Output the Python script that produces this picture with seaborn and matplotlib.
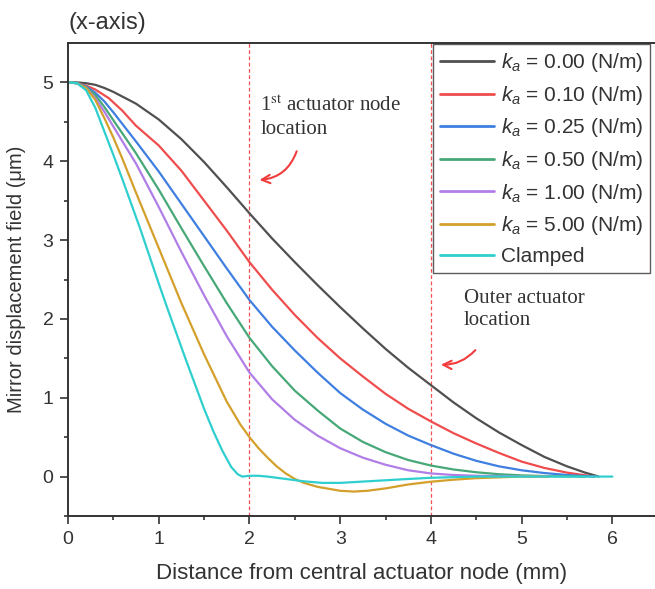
import numpy as np
import pandas as pd
import matplotlib
matplotlib.use("Agg")
import matplotlib.pyplot as plt
import seaborn as sns

# ---- data ----
labels = ["$k_a$ = 0.00 (N/m)", "$k_a$ = 0.10 (N/m)", "$k_a$ = 0.25 (N/m)",
          "$k_a$ = 0.50 (N/m)", "$k_a$ = 1.00 (N/m)", "$k_a$ = 5.00 (N/m)", "Clamped"]
colors = ["#505050", "#ef4d4d", "#3f7fe0", "#47a877", "#b07ee6", "#d4a02c", "#2fcfcf"]

x_k000 = [0, 0.1, 0.2, 0.3, 0.4, 0.5, 0.75, 1.0, 1.25, 1.5, 1.75, 2.0, 2.25, 2.5, 2.75, 3.0, 3.25,
          3.5, 3.75, 4.0, 4.25, 4.5, 4.75, 5.0, 5.25, 5.5, 5.7, 5.85]
y_k000 = [5, 5.0, 4.99, 4.97, 4.93, 4.88, 4.73, 4.53, 4.28, 3.99, 3.67, 3.34, 3.02, 2.72, 2.43, 2.15, 1.88,
          1.62, 1.38, 1.16, 0.94, 0.74, 0.56, 0.40, 0.25, 0.13, 0.05, 0.0]

x_k010 = [0, 0.1, 0.2, 0.3, 0.45, 0.6, 0.75, 1.0, 1.25, 1.5, 1.75, 2.0, 2.25, 2.5, 2.75, 3.0, 3.25,
          3.5, 3.75, 4.0, 4.25, 4.5, 4.75, 5.0, 5.25, 5.5, 5.8]
y_k010 = [5, 4.99, 4.96, 4.91, 4.8, 4.64, 4.45, 4.2, 3.88, 3.5, 3.12, 2.72, 2.37, 2.05, 1.76, 1.5, 1.27,
          1.05, 0.86, 0.7, 0.55, 0.42, 0.3, 0.19, 0.11, 0.05, 0.0]

x_k025 = [0, 0.1, 0.2, 0.3, 0.4, 0.5, 0.75, 1.0, 1.25, 1.5, 1.75, 2.0, 2.25, 2.5, 2.75, 3.0, 3.25,
          3.5, 3.75, 4.0, 4.25, 4.5, 4.75, 5.0, 5.25, 5.5, 5.8]
y_k025 = [5, 4.99, 4.95, 4.87, 4.76, 4.62, 4.25, 3.87, 3.46, 3.05, 2.64, 2.24, 1.9, 1.6, 1.32, 1.06, 0.85,
          0.67, 0.52, 0.4, 0.29, 0.2, 0.13, 0.08, 0.045, 0.02, 0.0]

x_k050 = [0, 0.1, 0.2, 0.3, 0.4, 0.5, 0.75, 1.0, 1.25, 1.5, 1.75, 2.0, 2.25, 2.5, 2.75, 3.0, 3.25,
          3.5, 3.75, 4.0, 4.25, 4.5, 4.75, 5.0, 5.3, 5.7]
y_k050 = [5, 4.99, 4.94, 4.84, 4.69, 4.52, 4.1, 3.64, 3.15, 2.67, 2.2, 1.76, 1.4, 1.09, 0.84, 0.61, 0.44,
          0.31, 0.21, 0.14, 0.09, 0.055, 0.03, 0.015, 0.005, 0.0]

x_k100 = [0, 0.1, 0.2, 0.3, 0.4, 0.5, 0.75, 1.0, 1.25, 1.5, 1.75, 2.0, 2.25, 2.5, 2.75, 3.0, 3.25,
          3.5, 3.75, 4.0, 4.25, 4.5, 5.3]
y_k100 = [5, 4.99, 4.93, 4.8, 4.63, 4.44, 3.97, 3.42, 2.85, 2.3, 1.78, 1.32, 0.98, 0.72, 0.52, 0.36, 0.24,
          0.15, 0.08, 0.04, 0.02, 0.01, 0.0]

x_k500 = [0, 0.1, 0.2, 0.3, 0.4, 0.5, 0.6, 0.75, 1.0, 1.25, 1.5, 1.75, 1.9, 2.0, 2.1, 2.2, 2.3, 2.4,
          2.5, 2.6, 2.75, 3.0, 3.15, 3.3, 3.5, 3.75, 4.0, 4.25, 4.5, 4.75, 5.0, 5.3]
y_k500 = [5, 4.99, 4.93, 4.78, 4.55, 4.3, 4.03, 3.6, 2.9, 2.2, 1.55, 0.95, 0.66, 0.5, 0.36, 0.24, 0.13, 0.04,
          -0.03, -0.08, -0.13, -0.18, -0.19, -0.18, -0.15, -0.1, -0.065, -0.04, -0.02, -0.01, 0.0, 0.0]

x_clamp = [0, 0.1, 0.2, 0.3, 0.4, 0.5, 0.6, 0.7, 0.8, 0.9, 1.0, 1.1, 1.2, 1.3, 1.4, 1.5, 1.6, 1.7,
           1.8, 1.87, 1.92, 2.0, 2.1, 2.2, 2.4, 2.6, 2.8, 3.0, 3.3, 3.6, 4.0, 4.5, 6.0]
y_clamp = [5, 4.99, 4.9, 4.68, 4.38, 4.08, 3.77, 3.45, 3.13, 2.79, 2.45, 2.12, 1.8, 1.48, 1.17, 0.86, 0.58, 0.33,
           0.12, 0.03, 0.0, 0.01, 0.01, 0.0, -0.03, -0.06, -0.08, -0.08, -0.06, -0.04, -0.015, 0.0, 0.0]

xs = [x_k000, x_k010, x_k025, x_k050, x_k100, x_k500, x_clamp]
ys = [y_k000, y_k010, y_k025, y_k050, y_k100, y_k500, y_clamp]

vlines_x = [2, 4]

frames = [pd.DataFrame({"x": xv, "y": yv, "series": lab}) for xv, yv, lab in zip(xs, ys, labels)]
df = pd.concat(frames, ignore_index=True)

# ---- style ----
sns.set_style("ticks")
plt.rcParams["font.family"] = ["Liberation Sans", "DejaVu Sans"]
plt.rcParams["mathtext.fontset"] = "custom"
plt.rcParams["mathtext.it"] = "Liberation Sans:italic"
plt.rcParams["mathtext.rm"] = "Liberation Sans"
plt.rcParams["mathtext.default"] = "it"

fig = plt.figure(figsize=(6.55, 5.89), dpi=100)
ax = fig.add_axes([68 / 655, (589 - 516) / 589, (655 - 68) / 655, (516 - 43) / 589])

sns.lineplot(data=df, x="x", y="y", hue="series", hue_order=labels,
             palette=dict(zip(labels, colors)), estimator=None, sort=False,
             linewidth=1.6, ax=ax)

for xv in vlines_x:
    ax.axvline(xv, color="#f05050", linestyle=(0, (3, 2)), linewidth=0.9, zorder=0)

ax.set_xlim(0, 6.47)
ax.set_ylim(-0.5, 5.5)
ax.set_xticks([0, 1, 2, 3, 4, 5, 6])
ax.set_xticks(np.arange(0.5, 6.5, 1.0), minor=True)
ax.set_yticks([0, 1, 2, 3, 4, 5])
ax.set_yticks(np.arange(-0.5, 5.5, 1.0), minor=True)
ax.tick_params(which="major", direction="out", length=5.5, width=1.2, labelsize=14,
               colors="#333333", labelcolor="#333333", pad=5)
ax.tick_params(which="minor", direction="out", length=3, width=1.2, colors="#333333")
for side in ["left", "bottom", "top"]:
    ax.spines[side].set_linewidth(1.4)
    ax.spines[side].set_color("#333333")
ax.spines["right"].set_visible(False)

ax.set_xlabel("Distance from central actuator node (mm)", fontsize=16, color="#333333", labelpad=11)
ax.set_ylabel("Mirror displacement field (\u03bcm)", fontsize=14.5, color="#333333", labelpad=12)
fig.text(68 / 655, 1 - 23 / 589, "(x-axis)", fontsize=17, color="#333333", va="center", ha="left")

leg = ax.legend(loc="upper right", bbox_to_anchor=(650 / 655, (589 - 44) / 589),
                bbox_transform=fig.transFigure, frameon=True, fancybox=False,
                fontsize=15, handlelength=2.6, handletextpad=0.3, borderpad=0.35,
                labelspacing=0.46, borderaxespad=0)
leg.get_frame().set_edgecolor("#333333")
leg.get_frame().set_linewidth(1.0)
for t in leg.get_texts():
    t.set_color("#333333")
for h in leg.get_lines():
    h.set_linewidth(2.0)

serif = ["Liberation Serif", "DejaVu Serif"]
ax.text(2.12, 4.83, "1$^{\\rm st}$ actuator node\nlocation", family=serif, fontsize=15,
        color="#333333", va="top", ha="left", math_fontfamily="stix", linespacing=1.25)
ax.text(4.36, 2.38, "Outer actuator\nlocation", family=serif, fontsize=15,
        color="#333333", va="top", ha="left", linespacing=1.25)

ax.annotate("", xy=(2.08, 3.76), xytext=(2.53, 4.16),
            arrowprops=dict(arrowstyle="->", color="#f03c3c", lw=1.5,
                            connectionstyle="arc3,rad=-0.35", mutation_scale=15))
ax.annotate("", xy=(4.08, 1.42), xytext=(4.51, 1.63),
            arrowprops=dict(arrowstyle="->", color="#f03c3c", lw=1.5,
                            connectionstyle="arc3,rad=-0.25", mutation_scale=15))

fig.savefig("out.png", dpi=100)
